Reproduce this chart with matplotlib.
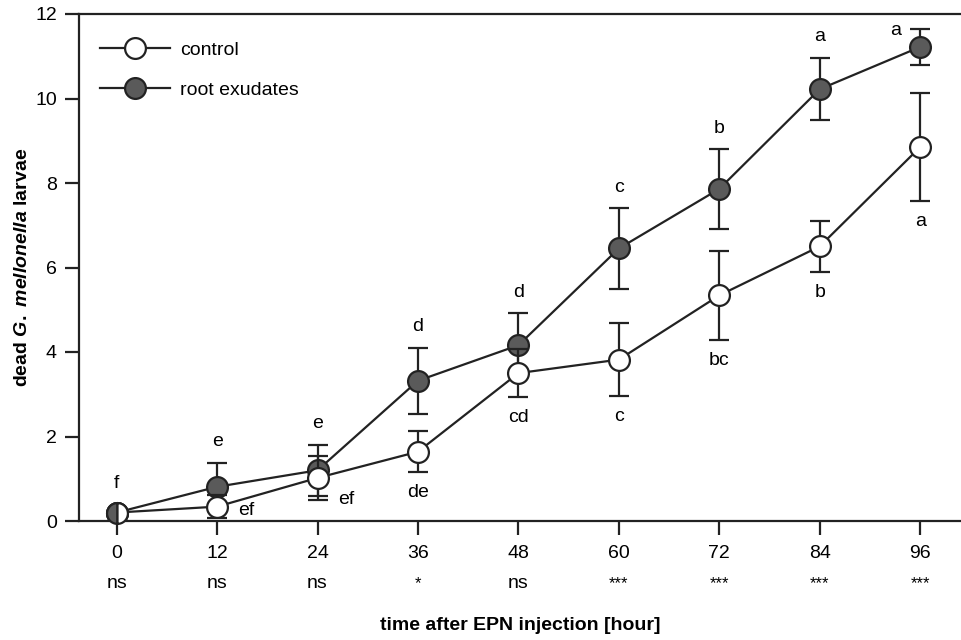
import matplotlib
matplotlib.use("Agg")
import matplotlib.pyplot as plt
from matplotlib.lines import Line2D
import numpy as np

plt.rcParams['font.family'] = ['Liberation Sans', 'DejaVu Sans']
plt.rcParams['mathtext.fontset'] = 'custom'
plt.rcParams['mathtext.it'] = 'Liberation Sans:italic:bold'
plt.rcParams['mathtext.rm'] = 'Liberation Sans:bold'

hours = [0, 12, 24, 36, 48, 60, 72, 84, 96]
control = [0.2, 0.34, 1.02, 1.64, 3.5, 3.82, 5.34, 6.5, 8.85]
control_err = [np.nan, 0.27, 0.52, 0.48, 0.57, 0.87, 1.05, 0.6, 1.28]
root = [0.2, 0.81, 1.2, 3.32, 4.16, 6.45, 7.86, 10.22, 11.22]
root_err = [np.nan, 0.57, 0.6, 0.78, 0.76, 0.95, 0.94, 0.74, 0.42]
control_letters = ['', 'ef', 'ef', 'de', 'cd', 'c', 'bc', 'b', 'a']
root_letters = ['f', 'e', 'e', 'd', 'd', 'c', 'b', 'a', 'a']
significance = ['ns', 'ns', 'ns', '*', 'ns', '***', '***', '***', '***']
yticks = [0, 2, 4, 6, 8, 10, 12]

line_c = '#222222'
dark = '#5a5a5a'
fs = 14

fig = plt.figure(figsize=(9.62, 6.4), dpi=100)
ax = fig.add_axes([79/962, 1-521/640, 1-79/962, (521-14)/640])

ms = 15
lw = 1.6
mew = 1.6
ax.errorbar(hours, root, yerr=root_err, color=line_c, lw=lw, capsize=7, capthick=lw,
            marker='o', ms=ms, mfc=dark, mec=line_c, mew=mew, zorder=3)
ax.errorbar(hours, control, yerr=control_err, color=line_c, lw=lw, capsize=7, capthick=lw,
            marker='o', ms=ms, mfc='white', mec=line_c, mew=mew, zorder=4)
# half-filled marker at the shared start point
ax.plot(hours[0], root[0], marker='o', ms=ms, fillstyle='left', mfc=dark,
        markerfacecoloralt='white', mec=line_c, mew=mew, ls='none', zorder=6, clip_on=False)

# letters for root exudates
for i, (x, y, e, t) in enumerate(zip(hours, root, root_err, root_letters)):
    if i == 0:
        ax.text(x, y + 0.68, t, ha='center', va='center', fontsize=fs)
    elif i == len(hours) - 1:
        ax.text(x - 2.9, y + 0.4, t, ha='center', va='center', fontsize=fs)
    else:
        ax.text(x, y + e + 0.5, t, ha='center', va='center', fontsize=fs)

# letters for control
for i, (x, y, e, t) in enumerate(zip(hours, control, control_err, control_letters)):
    if not t:
        continue
    if i == 1:
        ax.text(x + 3.5, y - 0.1, t, ha='center', va='center', fontsize=fs)
    elif i == 2:
        ax.text(x + 3.4, y - 0.5, t, ha='center', va='center', fontsize=fs)
    else:
        ax.text(x, y - e - 0.48, t, ha='center', va='center', fontsize=fs)

# significance row
for x, s in zip(hours, significance):
    ax.text(x, -0.123, s, transform=ax.get_xaxis_transform(), ha='center', va='center',
            fontsize=fs if s == 'ns' else 12)

ax.set_xlim(-4.5, 101)
ax.set_ylim(0, 12)
ax.set_xticks(hours)
ax.set_yticks(yticks)
ax.tick_params(axis='both', direction='out', length=10, width=1.6, labelsize=fs, color=line_c)
ax.tick_params(axis='x', pad=7)
ax.tick_params(axis='y', pad=6)
for side in ['left', 'bottom', 'top']:
    ax.spines[side].set_linewidth(1.6)
    ax.spines[side].set_color(line_c)
ax.spines['right'].set_visible(False)

ax.set_xlabel('time after EPN injection [hour]', fontsize=fs, fontweight='bold', labelpad=40)
ax.set_ylabel(r'dead $\mathit{G.\ mellonella}$ larvae', fontsize=fs, fontweight='bold', labelpad=3)

h_control = Line2D([], [], color=line_c, lw=lw, marker='o', ms=ms, mfc='white', mec=line_c, mew=mew)
h_root = Line2D([], [], color=line_c, lw=lw, marker='o', ms=ms, mfc=dark, mec=line_c, mew=mew)
ax.legend([h_control, h_root], ['control', 'root exudates'], loc='upper left',
          bbox_to_anchor=(0.004, 0.98), frameon=False, fontsize=fs, handlelength=3.6,
          handletextpad=0.5, labelspacing=1.15)

fig.savefig('out.png', dpi=100)
